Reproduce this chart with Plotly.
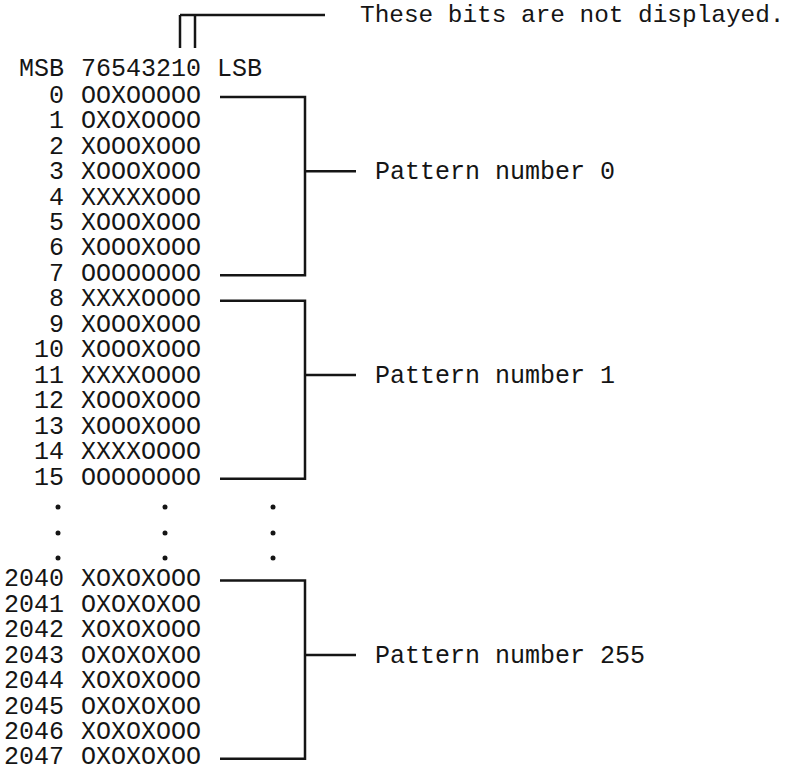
import plotly.graph_objects as go

# ---- data ----
header_left = "MSB"
header_bits = "76543210"
header_right = "LSB"
top_note = "These bits are not displayed."

addresses_0 = ["0", "1", "2", "3", "4", "5", "6", "7"]
patterns_0 = ["OOXOOOOO", "OXOXOOOO", "XOOOXOOO", "XOOOXOOO",
              "XXXXXOOO", "XOOOXOOO", "XOOOXOOO", "OOOOOOOO"]
addresses_1 = ["8", "9", "10", "11", "12", "13", "14", "15"]
patterns_1 = ["XXXXOOOO", "XOOOXOOO", "XOOOXOOO", "XXXXOOOO",
              "XOOOXOOO", "XOOOXOOO", "XXXXOOOO", "OOOOOOOO"]
addresses_255 = ["2040", "2041", "2042", "2043", "2044", "2045", "2046", "2047"]
patterns_255 = ["XOXOXOOO", "OXOXOXOO", "XOXOXOOO", "OXOXOXOO",
                "XOXOXOOO", "OXOXOXOO", "XOXOXOOO", "OXOXOXOO"]
group_labels = ["Pattern number 0", "Pattern number 1", "Pattern number 255"]
group_label_row = [3, 3, 3]   # row inside group where label tick sits

# ---- layout constants (window pixels / row slots) ----
W, H = 800, 770
Y0, PITCH = 95.0, 25.45           # pixel of slot 0, pixel per slot
TXT_DY = 1.5 / PITCH              # small downward nudge so text centres on row
def px2slot(p):
    return (p - Y0) / PITCH

FONT = dict(family="Liberation Mono, Courier New, monospace", size=25, color="#151515")
NOTE_FONT = dict(FONT, size=24.4)
INK = "#151515"
LW = 2.5
X_NUM_R = 64
X_PAT_L = 81
X_BR_L, X_BR_V, X_TICK = 220, 305, 356
X_LABEL = 375

groups = [
    (addresses_0, patterns_0, 0),
    (addresses_1, patterns_1, 8),
    (addresses_255, patterns_255, 19),
]

fig = go.Figure()

def text_trace(x, y, text, pos, font):
    return go.Scatter(x=x, y=y, text=text, mode="text", textposition=pos,
                      textfont=font, hoverinfo="skip", cliponaxis=False)

for (addrs, pats, start), label, lrow in zip(groups, group_labels, group_label_row):
    slots = [start + i for i in range(len(addrs))]
    tslots = [s + TXT_DY for s in slots]
    fig.add_trace(text_trace([X_NUM_R] * len(addrs), tslots, addrs, "middle left", FONT))
    fig.add_trace(text_trace([X_PAT_L] * len(pats), tslots, pats, "middle right", FONT))
    top, bot = slots[0] + 0.08, slots[-1] + 0.08
    # bracket
    fig.add_trace(go.Scatter(x=[X_BR_L, X_BR_V, X_BR_V, X_BR_L],
                             y=[top, top, bot, bot], mode="lines",
                             line=dict(color=INK, width=LW), hoverinfo="skip"))
    ty = slots[lrow]
    fig.add_trace(go.Scatter(x=[X_BR_V, X_TICK], y=[ty, ty], mode="lines",
                             line=dict(color=INK, width=LW), hoverinfo="skip"))
    fig.add_trace(text_trace([X_LABEL], [ty + TXT_DY], [label], "middle right", FONT))

# header
hy = px2slot(70)
fig.add_trace(text_trace([X_NUM_R, X_PAT_L, 217], [hy, hy, hy],
                         [header_left, header_bits, header_right],
                         ["middle left", "middle right", "middle right"], FONT))

# top pointer lines
ytop, ybot = px2slot(15), px2slot(48)
fig.add_trace(go.Scatter(x=[180, 180, None, 195, 195, None, 180, 325],
                         y=[ybot, ytop, None, ybot, ytop, None, ytop, ytop],
                         mode="lines", line=dict(color=INK, width=LW),
                         hoverinfo="skip"))
fig.add_trace(text_trace([360], [px2slot(16)], [top_note], "middle right", NOTE_FONT))

# ellipsis dots
dot_x = [58, 165, 273]
dot_slots = [px2slot(507), px2slot(533), px2slot(558)]
fig.add_trace(go.Scatter(x=[x for s in dot_slots for x in dot_x],
                         y=[s for s in dot_slots for _ in dot_x],
                         mode="markers", marker=dict(color=INK, size=5),
                         hoverinfo="skip"))

fig.update_layout(
    width=W, height=H, margin=dict(l=0, r=0, t=0, b=0),
    paper_bgcolor="white", plot_bgcolor="white", showlegend=False,
    xaxis=dict(range=[0, W], visible=False, fixedrange=True),
    yaxis=dict(range=[px2slot(H), px2slot(0)], visible=False, fixedrange=True),
)
fig.write_html("out.html", config={"displayModeBar": False},
               post_script="document.body.style.margin='0';document.body.style.overflow='hidden';")
